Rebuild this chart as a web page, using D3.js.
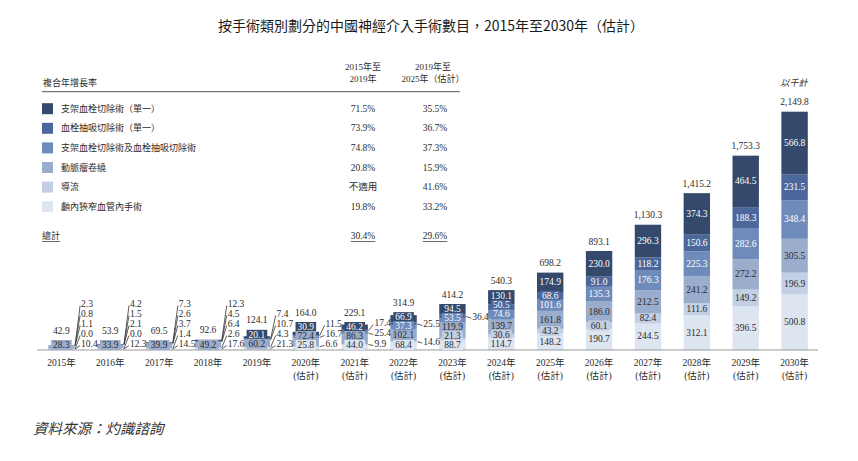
<!DOCTYPE html>
<html lang="zh-Hant">
<head>
<meta charset="UTF-8">
<title>按手術類別劃分的中國神經介入手術數目</title>
<script src="https://d3js.org/d3.v7.min.js"></script>
<style>
  body { margin: 0; background: #fff; }
  svg { display: block; }
  text { fill: #2b2b2b; }
  .num { font-family: 'Liberation Serif', 'DejaVu Serif', 'Noto Sans CJK TC', serif; font-size: 9.5px; }
  .cjk { font-family: 'Liberation Serif', 'Noto Sans CJK TC', serif; font-size: 9px; }
</style>
</head>
<body>
<svg id="chart" width="858" height="461"></svg>
<script>
const years = [2015, 2016, 2017, 2018, 2019, 2020, 2021, 2022, 2023, 2024, 2025, 2026, 2027, 2028, 2029, 2030];
const yearLabels = [
  ["2015年"], ["2016年"], ["2017年"], ["2018年"], ["2019年"],
  ["2020年", "(估計)"], ["2021年", "(估計)"], ["2022年", "(估計)"], ["2023年", "(估計)"],
  ["2024年", "(估計)"], ["2025年", "(估計)"], ["2026年", "(估計)"], ["2027年", "(估計)"],
  ["2028年", "(估計)"], ["2029年", "(估計)"], ["2030年", "(估計)"]
];

// 千次手術
const stent = [2.3, 4.2, 7.3, 12.3, 20.1, 30.9, 46.2, 66.9, 94.5, 130.1, 174.9, 230.0, 296.3, 374.3, 464.5, 566.8];
const aspiration = [0.8, 1.5, 2.6, 4.5, 7.4, 11.5, 17.4, 25.5, 36.4, 50.5, 68.6, 91.0, 118.2, 150.6, 188.3, 231.5];
const combined = [1.1, 2.1, 3.7, 6.4, 10.7, 16.7, 25.4, 37.3, 53.5, 74.6, 101.6, 135.3, 176.3, 225.3, 282.6, 348.4];
const aneurysm = [28.3, 33.9, 39.9, 49.2, 60.2, 72.4, 86.3, 102.1, 119.9, 139.7, 161.8, 186.0, 212.5, 241.2, 272.2, 305.5];
const flow = [0.0, 0.0, 1.4, 2.6, 4.3, 6.6, 9.9, 14.6, 21.3, 30.6, 43.2, 60.1, 82.4, 111.6, 149.2, 196.9];
const intracranial = [10.4, 12.3, 14.5, 17.6, 21.3, 25.8, 44.0, 68.4, 88.7, 114.7, 148.2, 190.7, 244.5, 312.1, 396.5, 500.8];
const totals = [42.9, 53.9, 69.5, 92.6, 124.1, 164.0, 229.1, 314.9, 414.2, 540.3, 698.2, 893.1, 1130.3, 1415.2, 1753.3, 2149.8];

// legend order, top to bottom
const seriesNames = ["支架血栓切除術（單一）", "血栓抽吸切除術（單一）", "支架血栓切除術及血栓抽吸切除術", "動脈瘤卷繞", "導流", "顱內狹窄血管內手術"];
const cagr2015to2019 = ["71.5%", "73.9%", "74.8%", "20.8%", "不適用", "19.8%"];
const cagr2019to2025 = ["35.5%", "36.7%", "37.3%", "15.9%", "41.6%", "33.2%"];
const totalCagr = ["30.4%", "29.6%"];

const svg = d3.select("#chart");
const baseY = 350;

const keys = ["intracranial", "flow", "aneurysm", "combined", "aspiration", "stent"]; // bottom -> top
const valuesByKey = { stent, aspiration, combined, aneurysm, flow, intracranial };
const colors = {
  stent: "#34496b", aspiration: "#4b679b", combined: "#6e8bbb",
  aneurysm: "#9badcd", flow: "#c3cfe4", intracranial: "#dde5f0"
};
const whiteText = ["stent", "aspiration", "combined"];

// labels that sit beside the bar (small segments)
const sideLabels = {
  2015: ["intracranial", "flow", "combined", "aspiration", "stent"],
  2016: ["intracranial", "flow", "combined", "aspiration", "stent"],
  2017: ["intracranial", "flow", "combined", "aspiration", "stent"],
  2018: ["intracranial", "flow", "combined", "aspiration", "stent"],
  2019: ["intracranial", "flow", "combined", "aspiration"],
  2020: ["flow", "combined", "aspiration"],
  2021: ["flow", "combined", "aspiration"],
  2022: ["flow", "aspiration"],
  2023: ["aspiration"]
};

const table = years.map((yr, i) => {
  const row = { year: yr };
  keys.forEach(k => row[k] = valuesByKey[k][i]);
  return row;
});
const stacked = d3.stack().keys(keys)(table);

const x = d3.scaleBand()
  .domain(years)
  .range([36, 820])
  .paddingInner(0.46)
  .paddingOuter(0.25);

const y = d3.scaleLinear()
  .domain([0, d3.max(stacked[stacked.length - 1], d => d[1])])
  .range([baseY, 111.7]);

const fmt = d3.format(",.1f");

// title
svg.append("text")
  .attr("x", 431).attr("y", 25)
  .attr("text-anchor", "middle")
  .attr("dominant-baseline", "central")
  .style("font-family", "'Noto Sans CJK TC', sans-serif")
  .style("font-size", "14px")
  .style("font-weight", 400)
  .style("fill", "#1a1a1a")
  .text("按手術類別劃分的中國神經介入手術數目，2015年至2030年（估計）");

// bars
svg.append("g").selectAll("g")
  .data(stacked)
  .join("g")
  .attr("fill", d => colors[d.key])
  .selectAll("rect")
  .data(d => d)
  .join("rect")
  .attr("x", d => x(d.data.year))
  .attr("y", d => y(d[1]))
  .attr("width", x.bandwidth())
  .attr("height", d => y(d[0]) - y(d[1]));

// baseline
svg.append("line")
  .attr("x1", 37).attr("x2", 818)
  .attr("y1", baseY).attr("y2", baseY)
  .attr("stroke", "#999").attr("stroke-width", 1.2);

// bar labels
const labels = svg.append("g");
years.forEach((yr, i) => {
  const x0 = x(yr), bw = x.bandwidth(), xr = x0 + bw, xc = x0 + bw / 2;
  const segs = keys.map((k, j) => {
    const y0 = y(stacked[j][i][0]), y1 = y(stacked[j][i][1]);
    return { key: k, v: valuesByKey[k][i], cy: (y0 + y1) / 2 };
  });
  const outside = sideLabels[yr] || [];
  const inner = segs.filter(s => !outside.includes(s.key));
  const outer = segs.filter(s => outside.includes(s.key));

  let prev = baseY + 4;
  inner.forEach(s => { s.ly = Math.min(s.cy, prev - 9); prev = s.ly; });
  prev = baseY + 4;
  outer.forEach(s => { s.ly = Math.min(s.cy, prev - 10); prev = s.ly; });

  // lower labels drawn last so they sit on top
  inner.slice().reverse().forEach(s => {
    const g = labels.append("g");
    const t = g.append("text")
      .attr("class", "num")
      .attr("x", xc).attr("y", s.ly)
      .attr("text-anchor", "middle")
      .attr("dominant-baseline", "central")
      .style("fill", whiteText.includes(s.key) ? "#fff" : "#2b2b2b")
      .text(fmt(s.v));
    const w = t.node().getComputedTextLength();
    g.insert("rect", "text")
      .attr("x", xc - w / 2 - 2).attr("y", s.ly - 5)
      .attr("width", w + 4).attr("height", 10)
      .attr("fill", colors[s.key]);
  });

  outer.forEach(s => {
    labels.append("line")
      .attr("x1", xr + 0.5).attr("y1", Math.min(s.cy, baseY - 1))
      .attr("x2", xr + 5.5).attr("y2", s.ly + 1.5)
      .attr("stroke", "#333").attr("stroke-width", 0.8);
    labels.append("text")
      .attr("class", "num")
      .attr("x", xr + 6.5).attr("y", s.ly)
      .attr("dominant-baseline", "central")
      .text(fmt(s.v));
  });

  const topBox = inner.length ? d3.min(inner, s => s.ly - 5) : Infinity;
  const barTop = y(stacked[stacked.length - 1][i][1]);
  labels.append("text")
    .attr("class", "num")
    .attr("x", xc).attr("y", Math.min(barTop, topBox) - 9.5)
    .attr("text-anchor", "middle")
    .attr("dominant-baseline", "central")
    .text(fmt(totals[i]));

  const yl = labels.append("text")
    .attr("class", "cjk")
    .attr("x", xc).attr("y", 363)
    .attr("text-anchor", "middle")
    .style("font-size", "9.5px");
  yearLabels[i].forEach((line, li) => {
    yl.append("tspan")
      .attr("x", xc).attr("y", 363 + li * 12.5)
      .attr("dominant-baseline", "central")
      .text(line);
  });
});

// unit
svg.append("text")
  .attr("class", "cjk")
  .attr("x", 794).attr("y", 83)
  .attr("text-anchor", "middle")
  .attr("dominant-baseline", "central")
  .style("font-style", "italic")
  .text("以千計");

// CAGR table
const legend = svg.append("g");
const col1 = 363, col2 = 433;
legend.append("text").attr("class", "cjk")
  .attr("x", 43).attr("y", 83).attr("dominant-baseline", "central")
  .text("複合年增長率");
[["2015年至", "2019年"], ["2019年至", "2025年（估計）"]].forEach((lines, c) => {
  lines.forEach((line, li) => {
    legend.append("text").attr("class", "cjk")
      .attr("x", c === 0 ? col1 : col2).attr("y", 67 + li * 11.7)
      .attr("text-anchor", "middle").attr("dominant-baseline", "central")
      .text(line);
  });
});
legend.append("line")
  .attr("x1", 42).attr("x2", 460).attr("y1", 91.7).attr("y2", 91.7)
  .attr("stroke", "#555").attr("stroke-width", 1);

const legendKeys = keys.slice().reverse();
seriesNames.forEach((name, i) => {
  const ry = 108.7 + i * 19.6;
  legend.append("rect")
    .attr("x", 42).attr("y", ry - 5.5)
    .attr("width", 11).attr("height", 11)
    .attr("fill", colors[legendKeys[i]]);
  legend.append("text").attr("class", "cjk")
    .attr("x", 61).attr("y", ry).attr("dominant-baseline", "central")
    .text(name);
  legend.append("text").attr("class", "num")
    .attr("x", col1).attr("y", ry).attr("text-anchor", "middle").attr("dominant-baseline", "central")
    .text(cagr2015to2019[i]);
  legend.append("text").attr("class", "num")
    .attr("x", col2 + 2).attr("y", ry).attr("text-anchor", "middle").attr("dominant-baseline", "central")
    .text(cagr2019to2025[i]);
});

const underlined = (cls, xPos, anchor, txt) => {
  const t = legend.append("text").attr("class", cls)
    .attr("x", xPos).attr("y", 236).attr("text-anchor", anchor).attr("dominant-baseline", "central")
    .text(txt);
  const b = t.node().getBBox();
  legend.append("line")
    .attr("x1", b.x).attr("x2", b.x + b.width)
    .attr("y1", 241.5).attr("y2", 241.5)
    .attr("stroke", "#2b2b2b").attr("stroke-width", 0.7);
};
underlined("cjk", 42, "start", "總計");
underlined("num", col1, "middle", totalCagr[0]);
underlined("num", col2 + 2, "middle", totalCagr[1]);

// source
svg.append("text")
  .attr("x", 33).attr("y", 427)
  .attr("dominant-baseline", "central")
  .style("font-family", "'Noto Sans CJK TC', serif")
  .style("font-size", "14.5px")
  .style("font-style", "italic")
  .style("fill", "#333")
  .text("資料來源：灼識諮詢");
</script>
</body>
</html>
